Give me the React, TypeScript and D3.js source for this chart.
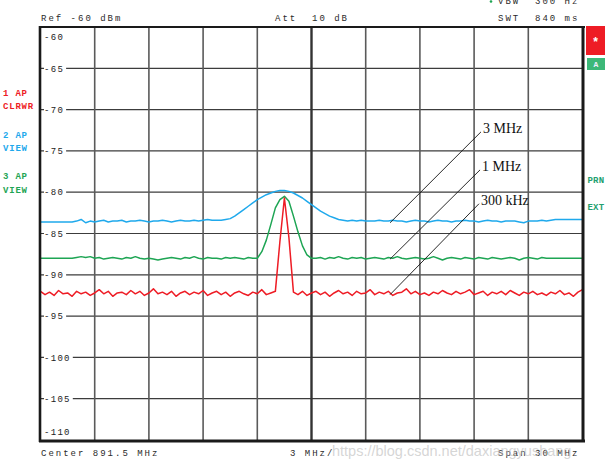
import React from 'react';
import * as d3 from 'd3';

const W = 605;
const H = 468;

// Frequency offsets from centre (MHz), 0.25 MHz spacing across the 30 MHz span
const freqMHz: number[] = d3.range(121).map((i) => -15 + i * 0.25);

// Trace 2 (RBW 3 MHz) – blue
const trace3MHz: number[] = [
  -83.6, -83.6, -83.6, -83.6, -83.6, -83.6, -83.6, -83.6, -83.5, -83.3,
  -83.7, -83.5, -83.6, -83.5, -83.4, -83.6, -83.5, -83.5, -83.4, -83.6,
  -83.5, -83.5, -83.4, -83.5, -83.6, -83.5, -83.5, -83.4, -83.5, -83.6,
  -83.5, -83.4, -83.5, -83.5, -83.4, -83.5, -83.4, -83.3, -83.4, -83.4,
  -83.4, -83.3, -83.2, -82.9, -82.5, -82.1, -81.7, -81.3, -80.9, -80.6,
  -80.3, -80.1, -79.9, -79.8, -79.8, -79.9, -80.1, -80.4, -80.7, -81.1,
  -81.5, -81.9, -82.3, -82.6, -82.9, -83.1, -83.3, -83.4, -83.5, -83.4,
  -83.5, -83.4, -83.5, -83.5, -83.5, -83.4, -83.5, -83.5, -83.4, -83.5,
  -83.5, -83.6, -83.5, -83.4, -83.5, -83.5, -83.6, -83.5, -83.4, -83.5,
  -83.5, -83.6, -83.5, -83.5, -83.4, -83.5, -83.5, -83.6, -83.5, -83.4,
  -83.5, -83.5, -83.6, -83.5, -83.5, -83.5, -83.6, -83.7, -83.5, -83.5,
  -83.5, -83.4, -83.5, -83.4, -83.3, -83.3, -83.3, -83.3, -83.3, -83.3,
  -83.3,
];

// Trace 3 (RBW 1 MHz) – green
const trace1MHz: number[] = [
  -88.0, -88.0, -88.0, -88.0, -88.0, -88.0, -88.0, -88.0, -87.9, -87.8,
  -87.9, -87.8, -88.0, -87.9, -88.1, -88.0, -87.9, -88.0, -88.1, -87.9,
  -88.0, -87.8, -88.0, -88.1, -88.0, -88.1, -88.2, -88.1, -88.0, -87.9,
  -88.0, -88.1, -87.9, -88.0, -87.8, -88.0, -88.1, -87.9, -88.0, -88.0,
  -88.1, -87.9, -88.0, -87.9, -88.0, -88.1, -87.9, -88.0, -88.0, -87.2,
  -85.8, -83.9, -81.9, -80.9, -80.5, -81.1, -82.9, -84.8, -86.5, -87.6,
  -88.0, -88.0, -87.9, -88.1, -87.9, -88.0, -87.8, -88.0, -88.1, -87.9,
  -88.0, -87.9, -88.1, -88.0, -87.9, -88.0, -88.1, -87.9, -88.0, -87.8,
  -88.0, -88.1, -88.0, -87.9, -88.0, -88.1, -88.0, -87.8, -88.0, -88.2,
  -88.0, -87.9, -88.0, -88.1, -87.9, -88.0, -88.1, -87.9, -88.0, -88.1,
  -87.9, -88.0, -88.1, -88.0, -87.9, -88.0, -88.2, -88.0, -87.9, -88.0,
  -88.1, -87.9, -88.0, -88.0, -88.0, -88.0, -88.0, -88.0, -88.0, -88.0,
  -88.0,
];

// Trace 1 (RBW 300 kHz) – red
const trace300kHz: number[] = [
  -92.0, -92.4, -92.1, -92.5, -91.9, -92.3, -92.2, -92.6, -92.0, -92.3,
  -92.1, -92.5, -92.2, -91.8, -92.3, -92.0, -92.6, -92.2, -92.1, -92.4,
  -91.9, -92.3, -92.0, -92.5, -92.2, -91.7, -92.3, -92.1, -92.4, -92.0,
  -92.6, -92.2, -92.0, -92.4, -92.1, -92.3, -91.9, -92.5, -92.2, -92.0,
  -92.4, -92.1, -92.6, -92.2, -92.0, -92.3, -92.5, -92.1, -92.3, -91.8,
  -92.4, -92.2, -92.0, -86.0, -80.7, -85.5, -92.1, -92.4, -92.0, -92.5,
  -92.2, -92.0, -92.4, -92.1, -92.6, -92.2, -91.9, -92.3, -92.1, -92.5,
  -92.0, -92.3, -92.2, -91.8, -92.4, -92.1, -92.3, -92.0, -92.5, -92.2,
  -92.1, -91.7, -92.3, -92.0, -92.4, -92.2, -92.5, -92.1, -92.3, -91.9,
  -92.2, -92.4, -92.0, -92.3, -92.1, -91.8, -92.4, -92.2, -92.0, -92.5,
  -92.1, -92.3, -92.0, -92.4, -91.9, -92.2, -92.5, -92.1, -92.3, -92.0,
  -92.4, -92.2, -92.5, -92.1, -92.3, -91.9, -92.4, -92.2, -92.6, -92.1,
  -91.8,
];

const yTicks: number[] = [-60, -65, -70, -75, -80, -85, -90, -95, -100, -105, -110];
const xGridMHz: number[] = [-12, -9, -6, -3, 0, 3, 6, 9, 12];

const annotationLabels: string[] = ['3 MHz', '1 MHz', '300 kHz'];
const annotationStartMHz: number[] = [9.38, 9.33, 9.27];
const annotationStartDb: number[] = [-72.7, -77.3, -81.4];
const annotationEndMHz: number[] = [4.35, 4.35, 4.35];
const annotationEndDb: number[] = [-83.7, -88.1, -92.4];

const RED = '#ee1c25';
const BLUE = '#1fa9ec';
const GREEN = '#1ea554';
const MONO = '"Liberation Mono", "DejaVu Sans Mono", monospace';

export default function App() {
  const x = d3.scaleLinear().domain([-15, 15]).range([40.5, 582.5]);
  const y = d3.scaleLinear().domain([-110, -60]).range([440, 27]);

  const lineGen = d3
    .line<number>()
    .x((_, i) => x(freqMHz[i]))
    .y((d) => y(d));

  const traces = [
    { vals: trace3MHz, color: BLUE },
    { vals: trace1MHz, color: GREEN },
    { vals: trace300kHz, color: RED },
  ];

  const hdr = { fontFamily: MONO, fontSize: 9, letterSpacing: 2, fill: '#2a2a2a', whiteSpace: 'pre' as const };
  const side = { fontFamily: MONO, fontSize: 9, letterSpacing: 0.8, whiteSpace: 'pre' as const, fontWeight: 700 as const };

  return (
    <svg width={W} height={H} style={{ position: 'absolute', left: 0, top: 0, background: '#fff' }}>
      <rect x={0} y={0} width={W} height={H} fill="#fff" />

      {/* header */}
      <circle cx={491} cy={1.5} r={1.3} fill={GREEN} />
      <text x={498} y={4} style={hdr}>VBW  300 Hz</text>
      <text x={41} y={21} style={hdr}>Ref -60 dBm</text>
      <text x={275} y={21} style={hdr}>Att  10 dB</text>
      <text x={498} y={21} style={hdr}>SWT  840 ms</text>

      {/* horizontal grid */}
      {yTicks
        .filter((t) => t !== -60 && t !== -110)
        .map((t) => (
          <line key={'h' + t} x1={x(-15)} x2={x(15)} y1={y(t)} y2={y(t)} stroke="#3c3c3c" strokeWidth={1.2} />
        ))}
      {/* vertical grid */}
      {xGridMHz.map((f) => (
        <line
          key={'v' + f}
          x1={x(f)}
          x2={x(f)}
          y1={y(-60)}
          y2={y(-110)}
          stroke={f === 0 ? '#333' : '#5a5a5a'}
          strokeWidth={f === 0 ? 2.4 : 1.6}
        />
      ))}

      {/* y tick labels inside the plot */}
      {yTicks.map((t) => {
        const label = String(t);
        const edge = t === -60 || t === -110;
        const cy = t === -60 ? 36.7 : t === -110 ? 431.7 : y(t);
        const w = label.length * 6.7 + 2;
        return (
          <g key={'yl' + t}>
            {!edge && <rect x={44} y={cy - 5} width={w} height={10} fill="#fff" />}
            <text x={44} y={cy + 3.2} style={{ fontFamily: MONO, fontSize: 9, letterSpacing: 1.3, fill: '#222' }}>
              {label}
            </text>
          </g>
        );
      })}

      {/* traces */}
      <defs>
        <clipPath id="plotClip">
          <rect x={x(-15)} y={y(-60)} width={x(15) - x(-15)} height={y(-110) - y(-60)} />
        </clipPath>
      </defs>
      <g clipPath="url(#plotClip)">
        {traces.map((tr, k) => (
          <path key={k} d={lineGen(tr.vals) || ''} fill="none" stroke={tr.color} strokeWidth={1.5} strokeLinejoin="round" />
        ))}
      </g>

      {/* frame */}
      <line x1={39} x2={585} y1={27} y2={27} stroke="#1a1a1a" strokeWidth={2.2} />
      <line x1={40} x2={40} y1={26} y2={442} stroke="#1a1a1a" strokeWidth={2.6} />
      <line x1={39} x2={585} y1={441} y2={441} stroke="#1a1a1a" strokeWidth={3} />
      <line x1={583} x2={583} y1={26} y2={442} stroke="#1a1a1a" strokeWidth={3} />

      {/* annotations */}
      {annotationLabels.map((lab, i) => {
        const sx = x(annotationStartMHz[i]);
        const sy = y(annotationStartDb[i]);
        return (
          <g key={'a' + i}>
            <line x1={sx} y1={sy} x2={x(annotationEndMHz[i])} y2={y(annotationEndDb[i])} stroke="#111" strokeWidth={0.9} />
            <text
              x={sx + 2}
              y={sy + 1}
              style={{ fontFamily: '"Liberation Serif", "Times New Roman", serif', fontSize: 14, fill: '#111' }}
            >
              {lab}
            </text>
          </g>
        );
      })}

      {/* left trace labels */}
      <text x={3} y={96} style={{ ...side, fill: RED }}>1 AP</text>
      <text x={3} y={108.5} style={{ ...side, fill: RED }}>CLRWR</text>
      <text x={3} y={137.5} style={{ ...side, fill: BLUE }}>2 AP</text>
      <text x={3} y={150.5} style={{ ...side, fill: BLUE }}>VIEW</text>
      <text x={3} y={179} style={{ ...side, fill: GREEN }}>3 AP</text>
      <text x={3} y={192.5} style={{ ...side, fill: GREEN }}>VIEW</text>

      {/* right side markers */}
      <rect x={586} y={26} width={19} height={29} fill={RED} />
      <text x={595.5} y={46} textAnchor="middle" style={{ fontFamily: MONO, fontSize: 12, fontWeight: 700, fill: '#fff' }}>*</text>
      <rect x={587} y={58} width={18} height={12} fill="#3cb878" />
      <text x={596} y={67} textAnchor="middle" style={{ fontFamily: MONO, fontSize: 8, fontWeight: 700, fill: '#eef' }}>A</text>
      <text x={587.5} y={183} style={{ ...side, letterSpacing: 0.2, fill: '#23a070' }}>PRN</text>
      <text x={587.5} y={210} style={{ ...side, letterSpacing: 0.2, fill: '#23a070' }}>EXT</text>

      {/* footer */}
      <text x={41} y={455.5} style={hdr}>Center 891.5 MHz</text>
      <text x={290} y={455.5} style={hdr}>3 MHz/</text>
      <text x={498} y={455.5} style={hdr}>Span 30 MHz</text>

      {/* watermark */}
      <text
        x={332}
        y={456}
        style={{ fontFamily: '"Liberation Sans", Arial, sans-serif', fontSize: 14.5, fill: 'rgba(190,190,190,0.65)' }}
      >
        https://blog.csdn.net/daxiangyushang
      </text>
    </svg>
  );
}
